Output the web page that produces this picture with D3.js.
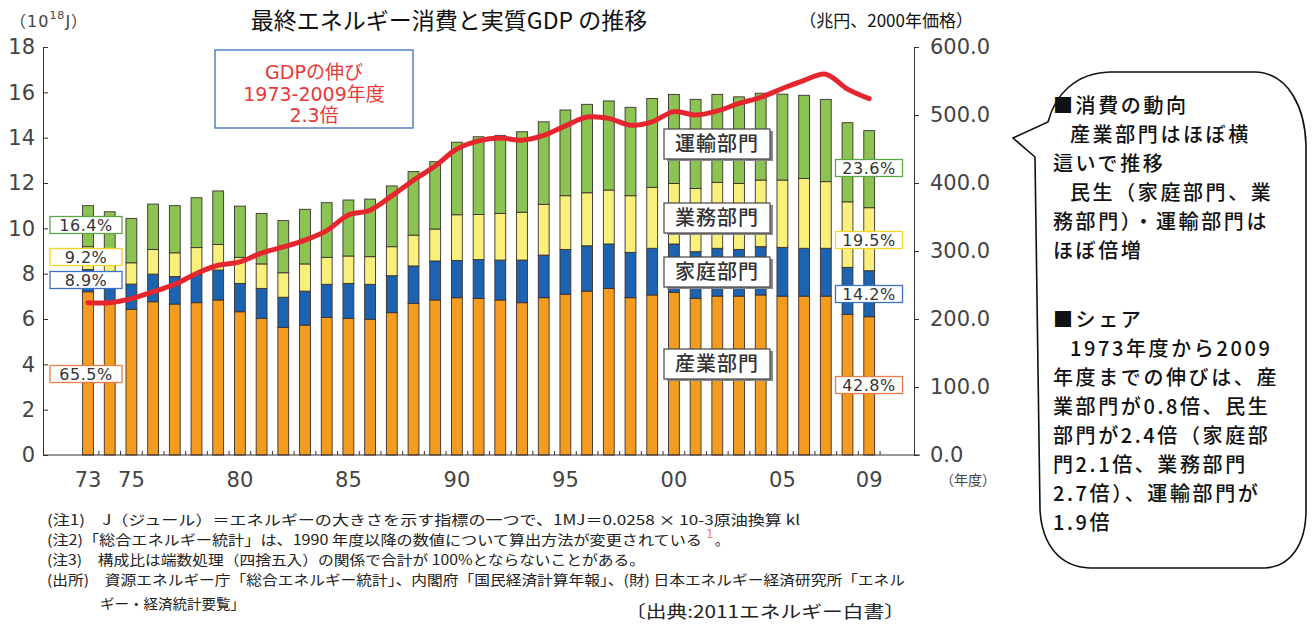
<!DOCTYPE html>
<html>
<head>
<meta charset="utf-8">
<style>
  body { margin: 0; background: #fff; }
  svg { display: block; }
  text { font-family: "DejaVu Sans", "Noto Sans CJK JP", sans-serif; }
  .jp { font-family: "Noto Sans CJK JP", sans-serif; }
</style>
</head>
<body>
<svg width="1313" height="630"></svg>
<script src="https://d3js.org/d3.v7.min.js"></script>
<script>

    // 10^18 J by sector, fiscal years 1973-2009
    var years = d3.range(1973, 2010);
    var industry   = [7.20, 6.69, 6.43, 6.76, 6.66, 6.72, 6.84, 6.32, 6.03, 5.63, 5.73, 6.07, 6.03, 5.99, 6.28, 6.69, 6.84, 6.94, 6.91, 6.84, 6.72, 6.94, 7.09, 7.23, 7.35, 6.94, 7.06, 7.18, 6.91, 7.01, 7.01, 7.06, 7.01, 7.01, 7.01, 6.21, 6.10];
    var household  = [0.98, 1.00, 1.11, 1.22, 1.21, 1.26, 1.32, 1.25, 1.32, 1.33, 1.50, 1.46, 1.54, 1.54, 1.63, 1.65, 1.72, 1.64, 1.71, 1.76, 1.88, 1.88, 1.98, 2.00, 1.96, 2.00, 2.06, 2.13, 2.06, 2.11, 2.06, 2.13, 2.15, 2.11, 2.11, 2.07, 2.03];
    var commercial = [1.01, 1.05, 0.94, 1.09, 1.05, 1.17, 1.13, 1.15, 1.08, 1.08, 1.20, 1.19, 1.21, 1.22, 1.28, 1.36, 1.41, 2.02, 1.99, 2.06, 2.11, 2.24, 2.37, 2.34, 2.38, 2.50, 2.69, 2.67, 2.79, 2.91, 2.91, 2.94, 2.97, 3.08, 2.94, 2.89, 2.78];
    var transport  = [1.81, 1.99, 1.96, 2.00, 2.08, 2.20, 2.36, 2.26, 2.23, 2.30, 2.41, 2.41, 2.47, 2.54, 2.68, 2.80, 2.97, 3.20, 3.43, 3.43, 3.55, 3.64, 3.78, 3.90, 3.93, 3.90, 3.92, 3.93, 3.93, 3.88, 3.82, 3.83, 3.79, 3.67, 3.63, 3.49, 3.40];
    // real GDP, trillion yen (2000 prices)
    var gdp = [224, 224, 230, 240, 251, 267, 279, 284, 297, 306, 316, 330, 353, 360, 381, 404, 425, 450, 462, 466, 463, 470, 484, 497, 495, 485, 490, 505, 500, 506, 517, 526, 539, 551, 560, 538, 524];

    var sectors = ["industry", "household", "commercial", "transport"];
    var sectorNames = ["産業部門", "家庭部門", "業務部門", "運輸部門"];
    var colors = ["#f39c1f", "#1c64b2", "#f8f07a", "#8cc453"];
    var share1973 = ["65.5%", "8.9%", "9.2%", "16.4%"];
    var share2009 = ["42.8%", "14.2%", "19.5%", "23.6%"];
    var shareBorders = ["#ef7b45", "#3b70c4", "#f3d52a", "#5aa747"];

    var xTickYears = [1973, 1975, 1980, 1985, 1990, 1995, 2000, 2005, 2009];

    // bubble text: [text, indented]
    var bubbleLines1 = [["■消費の動向", 0], ["産業部門はほぼ横", 1], ["這いで推移", 0], ["民生（家庭部門、業", 1], ["務部門）・運輸部門は", 0], ["ほぼ倍増", 0]];
    var bubbleLines2 = [["■シェア", 0], ["1973年度から2009", 1], ["年度までの伸びは、産", 0], ["業部門が0.8倍、民生", 0], ["部門が2.4倍（家庭部", 0], ["門2.1倍、業務部門", 0], ["2.7倍）、運輸部門が", 0], ["1.9倍", 0]];

    var notes = [
        "(注1)\u3000J（ジュール）＝エネルギーの大きさを示す指標の一つで、1MJ＝0.0258 × 10-3原油換算 kl",
        "(注2)「総合エネルギー統計」は、1990 年度以降の数値について算出方法が変更されている",
        "(注3)\u3000構成比は端数処理（四捨五入）の関係で合計が 100%とならないことがある。",
        "(出所)\u3000資源エネルギー庁「総合エネルギー統計」、内閣府「国民経済計算年報」、(財) 日本エネルギー経済研究所「エネル",
        "ギー・経済統計要覧」"
    ];
    var noteWidths = [753, 655, 598, 858, 145];

    var data = years.map(function(y, i) {
        return {year: y, industry: industry[i], household: household[i], commercial: commercial[i], transport: transport[i], gdp: gdp[i]};
    });

    var svg = d3.select("svg");

    var x = d3.scaleBand().domain(years).range([77.15, 880.05]).paddingInner(0.5).paddingOuter(0.25);
    var yL = d3.scaleLinear().domain([0, 18]).range([455, 47]);
    var yR = d3.scaleLinear().domain([0, 600]).range([455, 47]);

    var series = d3.stack().keys(sectors)(data);

    // bars
    svg.append("g").selectAll("g")
        .data(series)
        .join("g")
        .attr("fill", function(d, i) { return colors[i]; })
        .selectAll("rect")
        .data(function(d) { return d; })
        .join("rect")
        .attr("x", function(d) { return x(d.data.year); })
        .attr("y", function(d) { return yL(d[1]); })
        .attr("width", x.bandwidth())
        .attr("height", function(d) { return yL(d[0]) - yL(d[1]); })
        .attr("stroke", "#3a3030")
        .attr("stroke-width", 0.9);

    // left axis
    var gL = svg.append("g")
        .attr("transform", "translate(43,0)")
        .call(d3.axisLeft(yL).tickValues(d3.range(0, 19, 2)).tickSizeInner(-5).tickSizeOuter(-5).tickPadding(8));
    gL.selectAll("path, line").attr("stroke", "#3a3030");
    gL.selectAll("text").attr("font-size", 21).attr("fill", "#444").attr("font-family", "DejaVu Sans");

    // right axis
    var gR = svg.append("g")
        .attr("transform", "translate(914,0)")
        .call(d3.axisRight(yR).tickValues(d3.range(0, 601, 100)).tickFormat(d3.format(".1f")).tickSize(5).tickPadding(11));
    gR.selectAll("path, line").attr("stroke", "#3a3030");
    gR.selectAll("text").attr("font-size", 21).attr("fill", "#444").attr("font-family", "DejaVu Sans");

    // bottom axis labels
    var gB = svg.append("g")
        .attr("transform", "translate(0,455)")
        .call(d3.axisBottom(x).tickValues(xTickYears).tickFormat(function(d) { return String(d).slice(2); }).tickSize(0).tickPadding(17));
    gB.select(".domain").remove();
    gB.selectAll("text").attr("font-size", 21).attr("fill", "#444").attr("font-family", "DejaVu Sans");

    // baseline and small ticks between bars
    svg.append("line")
        .attr("x1", 43).attr("x2", 920).attr("y1", 455).attr("y2", 455)
        .attr("stroke", "#3a3030").attr("stroke-width", 1.2);
    svg.append("g").selectAll("line")
        .data(years)
        .join("line")
        .attr("x1", function(d) { return x(d) + x.bandwidth() / 2 + x.step() / 2; })
        .attr("x2", function(d) { return x(d) + x.bandwidth() / 2 + x.step() / 2; })
        .attr("y1", 455).attr("y2", 451)
        .attr("stroke", "#3a3030");

    svg.append("text").attr("class", "jp")
        .attr("x", 968).attr("y", 485).attr("text-anchor", "middle")
        .attr("font-size", 14).attr("fill", "#444").text("（年度）");

    // GDP line
    var line = d3.line()
        .x(function(d) { return x(d.year) + x.bandwidth() / 2; })
        .y(function(d) { return yR(d.gdp); })
        .curve(d3.curveCatmullRom);

    svg.append("path")
        .datum(data)
        .attr("fill", "none")
        .attr("stroke", "#e6262e")
        .attr("stroke-width", 5)
        .attr("stroke-linecap", "round")
        .attr("d", line);

    // share labels
    function shareBox(cx, cy, w, txt, border) {
        svg.append("rect")
            .attr("x", cx - w / 2).attr("y", cy - 8.5).attr("width", w).attr("height", 17)
            .attr("fill", "#fff").attr("stroke", border).attr("stroke-width", 1.3);
        svg.append("text")
            .attr("x", cx).attr("y", cy).attr("dy", "0.36em").attr("text-anchor", "middle")
            .attr("font-size", 16).attr("fill", "#333").attr("letter-spacing", 0.5).text(txt);
    }
    var leftY = [374, 280, 257, 225];
    var rightY = [385, 294, 240, 168];
    sectors.forEach(function(s, i) {
        shareBox(86, leftY[i], 72, share1973[i], shareBorders[i]);
        shareBox(869, rightY[i], 67, share2009[i], shareBorders[i]);
    });

    // sector name boxes
    var nameY = [364, 272, 218, 144];
    sectors.forEach(function(s, i) {
        svg.append("rect")
            .attr("x", 667).attr("y", nameY[i] - 13).attr("width", 106).attr("height", 30)
            .attr("fill", "#888");
        svg.append("rect")
            .attr("x", 664).attr("y", nameY[i] - 15).attr("width", 106).attr("height", 30)
            .attr("fill", "#fff").attr("stroke", "#444").attr("stroke-width", 1.2);
        svg.append("text").attr("class", "jp")
            .attr("x", 717).attr("y", nameY[i]).attr("dy", "0.36em").attr("text-anchor", "middle")
            .attr("font-size", 20).attr("font-weight", 500).attr("fill", "#333").attr("letter-spacing", 1)
            .text(sectorNames[i]);
    });

    // title & unit labels
    svg.append("text").attr("class", "jp")
        .attr("x", 449).attr("y", 21).attr("dy", "0.36em").attr("text-anchor", "middle")
        .attr("font-size", 23).attr("fill", "#111").text("最終エネルギー消費と実質GDP の推移");

    var unitL = svg.append("text")
        .attr("x", 10).attr("y", 27).attr("font-size", 16).attr("fill", "#444").attr("letter-spacing", 1);
    unitL.append("tspan").text("（10");
    unitL.append("tspan").attr("dy", -8).attr("font-size", 11).text("18");
    unitL.append("tspan").attr("dy", 8).text("J）");

    svg.append("text").attr("class", "jp")
        .attr("x", 973).attr("y", 21).attr("dy", "0.36em").attr("text-anchor", "end")
        .attr("font-size", 17).attr("fill", "#111").text("（兆円、2000年価格）");

    // GDP growth box
    svg.append("rect")
        .attr("x", 215).attr("y", 50).attr("width", 198).attr("height", 78)
        .attr("fill", "#fff").attr("stroke", "#3b6fc0").attr("stroke-width", 1.3);
    var gdpText = svg.append("text")
        .attr("text-anchor", "middle").attr("font-size", 19).attr("fill", "#e8383a");
    ["GDPの伸び", "1973-2009年度", "2.3倍"].forEach(function(t, i) {
        gdpText.append("tspan")
            .attr("x", 314).attr("y", 79 + i * 21.5).text(t);
    });

    // notes
    notes.forEach(function(t, i) {
        svg.append("text").attr("class", "jp")
            .attr("x", i == 4 ? 100 : 47).attr("y", [520, 540, 560, 580, 604][i]).attr("dy", "0.36em")
            .attr("font-size", 14).attr("fill", "#222")
            .attr("textLength", noteWidths[i]).attr("lengthAdjust", "spacingAndGlyphs")
            .text(t);
    });
    svg.append("text").attr("x", 706).attr("y", 538).attr("font-size", 12).attr("fill", "#f08050").text("1");
    svg.append("text").attr("class", "jp").attr("x", 715).attr("y", 540).attr("dy", "0.36em").attr("font-size", 14).attr("fill", "#222").text("。");

    svg.append("text").attr("class", "jp")
        .attr("x", 625).attr("y", 612).attr("dy", "0.36em")
        .attr("font-size", 17).attr("fill", "#222")
        .attr("textLength", 280).attr("lengthAdjust", "spacingAndGlyphs")
        .text("〔出典:2011エネルギー白書〕");

    // speech bubble
    svg.append("path")
        .attr("d", "M1013,138 L1048,122 C1055,95 1075,73 1110,72 L1255,72 C1290,73 1305,110 1306,145 L1306,510 C1306,545 1290,567 1265,568 L1090,568 C1060,567 1042,545 1040,510 L1035,157 Z")
        .attr("fill", "#fff").attr("stroke", "#111").attr("stroke-width", 1.6);

    function bubbleBlock(lines, y0, dy) {
        var t = svg.append("text").attr("class", "jp")
            .attr("font-size", 20).attr("font-weight", 500).attr("letter-spacing", 2.6).attr("fill", "#111");
        lines.forEach(function(l, i) {
            t.append("tspan")
                .attr("x", l[1] ? 1070 : 1053)
                .attr("y", y0 + i * dy + 7)
                .text(l[0]);
        });
    }
    bubbleBlock(bubbleLines1, 106, 29);
    bubbleBlock(bubbleLines2, 320, 29);

</script>
</body>
</html>
